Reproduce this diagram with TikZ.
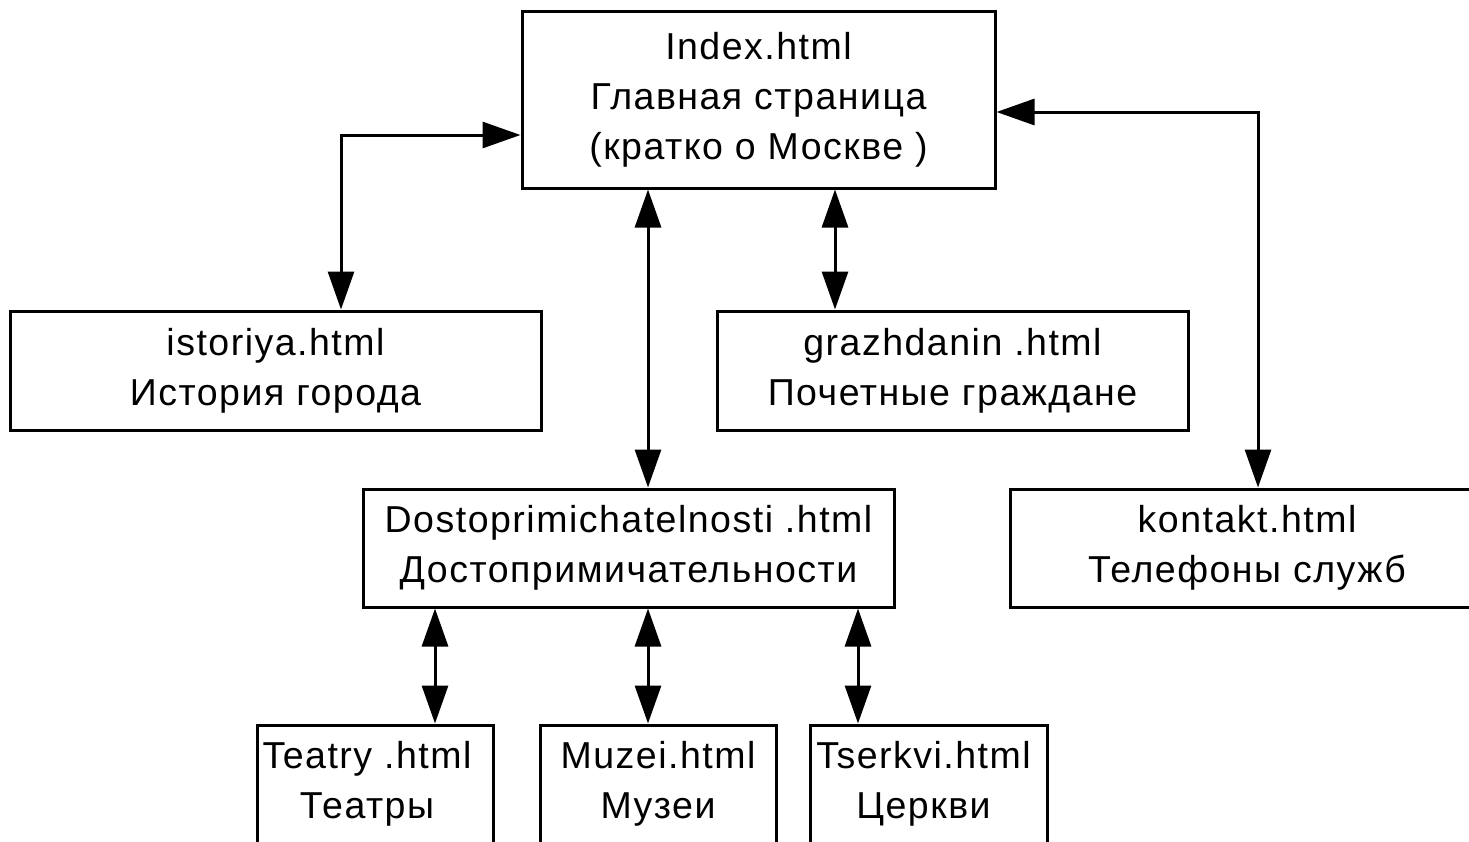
\documentclass[tikz,border=0pt]{standalone}
\usepackage{fontspec}
\setmainfont[LetterSpace=4]{Liberation Sans}
\usetikzlibrary{arrows.meta}
\begin{document}
\begin{tikzpicture}[x=1pt,y=-1pt,
  pagebox/.style={draw, line width=3pt, rectangle, inner sep=0pt, align=center,
    font=\fontsize{37.5}{50}\selectfont},
  link/.style={line width=3pt,
    {Triangle[length=38pt,width=26pt]}-{Triangle[length=38pt,width=26pt]}}]
\useasboundingbox (0,0) rectangle (1469,841);
\fill[white] (0,0) rectangle (1469,841);
\clip (0,0) rectangle (1469,841);

\node[pagebox, minimum width=473pt, minimum height=177pt] (index) at (758.5,99.5)
  {Index.html\\Главная страница\\(кратко о Москве )};
\node[pagebox, minimum width=531pt, minimum height=119pt] (istoriya) at (275.5,370.5)
  {istoriya.html\\История города};
\node[pagebox, minimum width=471pt, minimum height=119pt] (grazh) at (952.5,370.5)
  {grazhdanin .html\\Почетные граждане};
\node[pagebox, minimum width=531pt, minimum height=118pt] (dost) at (628.5,548)
  {Dostoprimichatelnosti .html\\Достопримичательности};
\node[pagebox, minimum width=474pt, minimum height=118pt] (kontakt) at (1247,548)
  {kontakt.html\\Телефоны служб};
\node[pagebox, minimum width=236pt, minimum height=118pt] (teatry) at (375,784)
  {Teatry .html\hspace*{16pt}\\Театры\hspace*{16pt}};
\node[pagebox, minimum width=236pt, minimum height=118pt] (muzei) at (658,784)
  {Muzei.html\\Музеи};
\node[pagebox, minimum width=237pt, minimum height=118pt] (tserkvi) at (928.5,784)
  {Tserkvi.html\hspace*{10pt}\\Церкви\hspace*{10pt}};

\coordinate (cist) at (341,135);
\coordinate (cdost) at (648,0);
\coordinate (cgr) at (835,0);
\coordinate (ckon) at (1258,112);
\coordinate (cte) at (435,0);
\coordinate (cmu) at (648,0);
\coordinate (cts) at (858,0);

\draw[link] (istoriya.north -| cist) |- (index.west |- cist);
\draw[link] (index.south -| cdost) -- (dost.north -| cdost);
\draw[link] (index.south -| cgr) -- (grazh.north -| cgr);
\draw[link] (index.east |- ckon) -| (kontakt.north -| ckon);
\draw[link] (dost.south -| cte) -- (teatry.north -| cte);
\draw[link] (dost.south -| cmu) -- (muzei.north -| cmu);
\draw[link] (dost.south -| cts) -- (tserkvi.north -| cts);
\end{tikzpicture}
\end{document}
